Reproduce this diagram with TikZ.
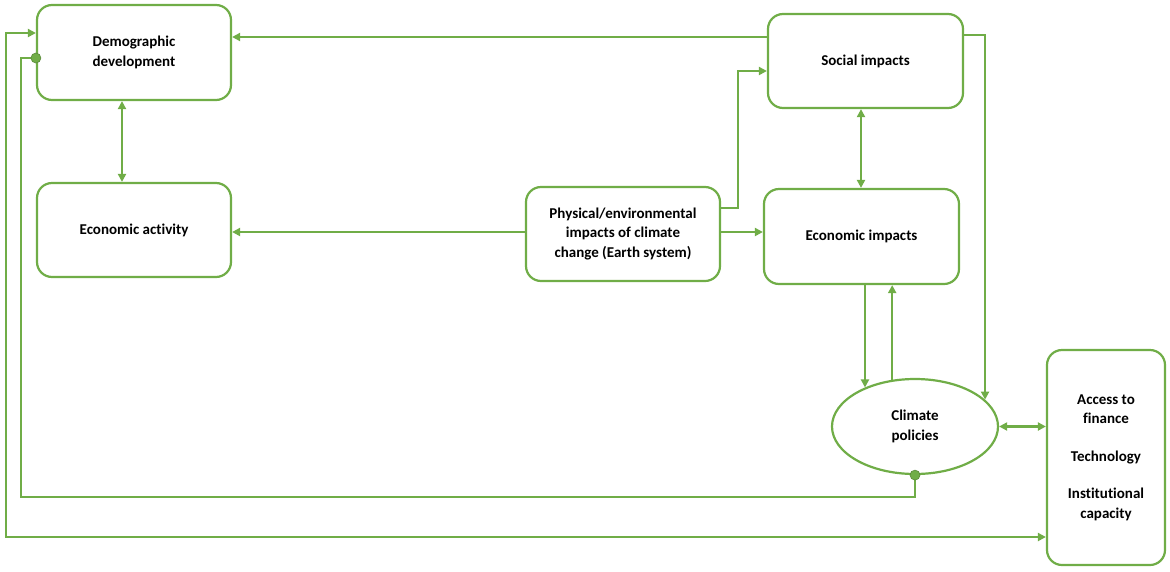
\documentclass[tikz,border=0pt]{standalone}
\usepackage{fontspec}
\setmainfont{Carlito}[Ligatures=NoCommon]
\usetikzlibrary{shapes.geometric,arrows.meta}
\definecolor{lgreen}{HTML}{70AD47}
\begin{document}
\begin{tikzpicture}[x=1pt,y=-1pt,
  box/.style={draw=lgreen,line width=2.2pt,rounded corners=15pt,fill=white,
    inner sep=0pt,align=center,font=\fontsize{15}{19.5}\selectfont\bfseries},
  conn/.style={draw=lgreen,line width=2.2pt},
  tip/.style={-{Triangle[length=8pt,width=8pt]}},
  both/.style={{Triangle[length=8pt,width=8pt]}-{Triangle[length=8pt,width=8pt]}},
  dot/.style={circle,fill=lgreen,draw=lgreen!80!black,line width=0.6pt,inner sep=0pt,minimum size=10pt}]
\useasboundingbox (0,0) rectangle (1170,571);
\node[box,minimum width=194pt,minimum height=95pt] (demo) at (134,52.5) {Demographic\\development};
\node[box,minimum width=194pt,minimum height=94pt] (eca) at (134,230) {Economic activity};
\node[box,minimum width=194pt,minimum height=94pt] (phys) at (623,234) {Physical/environmental\\impacts of climate\\change (Earth system)};
\node[box,minimum width=195pt,minimum height=94pt] (soc) at (865.5,61) {Social impacts};
\node[box,minimum width=195pt,minimum height=95pt] (eci) at (861.5,236.5) {Economic impacts};
\node[box,ellipse,rounded corners=0pt,minimum width=166pt,minimum height=95pt] (cp) at (915,426.5) {Climate\\policies};
\node[box,minimum width=118pt,minimum height=215pt] (acc) at (1106,457.5) {Access to\\finance\\[18pt]Technology\\[18pt]Institutional\\capacity};
% connectors
\draw[conn,tip] (soc.west |- 0,37) -- (demo.east |- 0,37);
\draw[conn,both] (demo.south -| 122,0) -- (eca.north -| 122,0);
\draw[conn,tip] (phys.west |- 0,232) -- (eca.east |- 0,232);
\draw[conn,tip] (phys.east |- 0,208) -- (738,208) -- (738,71) -- (soc.west |- 0,71);
\draw[conn,tip] (phys.east |- 0,232) -- (eci.west |- 0,232);
\draw[conn,both] (soc.south -| 861,0) -- (eci.north -| 861,0);
\draw[conn,tip] (soc.east |- 0,35) -- (cp.21.7 |- 0,35) -- (cp.21.7);
\draw[conn,tip] (cp.142.8 |- eci.south) -- (cp.142.8);
\draw[conn,tip] (cp.116.8) -- (cp.116.8 |- eci.south);
\draw[conn,both] (cp.east) -- (acc.west |- cp.east);
\draw[conn] (cp.south) -- (cp.south |- 0,497) -- (21,497) -- (21,58) -- (demo.west |- 0,58);
\node[dot] (d1) at (cp.south) {};
\node[dot] (d2) at (demo.west |- 0,58) {};
\draw[conn,both] (demo.west |- 0,33) -- (6,33) -- (6,537) -- (acc.west |- 0,537);
\end{tikzpicture}
\end{document}
